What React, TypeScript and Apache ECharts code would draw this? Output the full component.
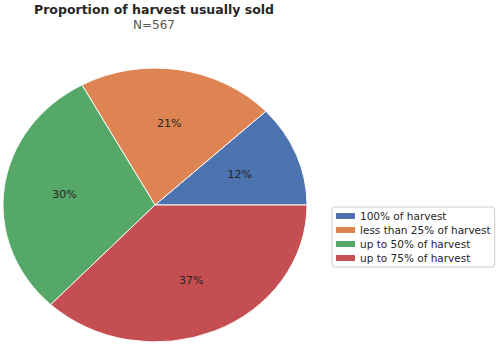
import React, { useEffect, useRef } from "react";
import * as echarts from "echarts";

const categories = [
  "100% of harvest",
  "less than 25% of harvest",
  "up to 50% of harvest",
  "up to 75% of harvest",
];
const counts = [68, 119, 170, 210];
const colors = ["#4c72b0", "#dd8452", "#55a868", "#c44e52"];
const titleText = "Proportion of harvest usually sold";
const subtitleText = "N=567";

const FONT = "DejaVu Sans";

export default function App() {
  const ref = useRef<HTMLDivElement>(null);
  useEffect(() => {
    if (!ref.current) return;
    const chart = echarts.init(ref.current, undefined, { renderer: "svg" });
    const total = counts.reduce((a, b) => a + b, 0);
    const starts: number[] = [];
    let acc = 0;
    counts.forEach((c) => {
      starts.push(acc);
      acc += c;
    });
    const cx = 155;
    const cy = 205;
    const rx = 152;
    const ry = 137;

    const series = categories.map((name, i) => ({
      type: "custom",
      name,
      coordinateSystem: "none",
      itemStyle: { color: colors[i] },
      data: [[counts[i], starts[i]]],
      renderItem: (params: any, api: any) => {
        const v = api.value(0);
        const s = api.value(1);
        const a0 = (s / total) * Math.PI * 2;
        const a1 = ((s + v) / total) * Math.PI * 2;
        const mid = (a0 + a1) / 2;
        const lx = cx + 0.6 * rx * Math.cos(mid);
        const ly = cy - 0.6 * ry * Math.sin(mid);
        return {
          type: "group",
          children: [
            {
              type: "group",
              x: cx,
              y: cy,
              scaleX: 1,
              scaleY: ry / rx,
              children: [
                {
                  type: "sector",
                  shape: {
                    cx: 0,
                    cy: 0,
                    r: rx,
                    r0: 0,
                    startAngle: -a1,
                    endAngle: -a0,
                    clockwise: true,
                  },
                  style: {
                    fill: colors[i],
                    stroke: "#ffffff",
                    lineWidth: 1,
                  },
                },
              ],
            },
            {
              type: "text",
              x: lx,
              y: ly,
              style: {
                text: Math.round((v / total) * 100) + "%",
                fontSize: 11,
                fontFamily: FONT,
                fill: "#262626",
                align: "center",
                verticalAlign: "middle",
              },
            },
          ],
        };
      },
    }));

    chart.setOption({
      animation: false,
      backgroundColor: "#ffffff",
      title: [
        {
          text: titleText,
          left: 154,
          textAlign: "center",
          top: 3,
          padding: 0,
          textStyle: {
            fontFamily: FONT,
            fontSize: 12.5,
            fontWeight: "bold",
            color: "#262626",
          },
        },
        {
          text: subtitleText,
          left: 154,
          textAlign: "center",
          top: 19,
          padding: 0,
          textStyle: {
            fontFamily: FONT,
            fontSize: 12,
            fontWeight: "normal",
            color: "#555555",
          },
        },
      ],
      legend: {
        orient: "vertical",
        left: 332,
        top: 207,
        data: categories,
        icon: "rect",
        itemWidth: 19,
        itemHeight: 6,
        itemGap: 2,
        padding: [3, 4, 3, 4],
        borderColor: "#cccccc",
        borderWidth: 1,
        borderRadius: 3,
        selectedMode: false,
        textStyle: {
          fontFamily: FONT,
          fontSize: 10.5,
          lineHeight: 12,
          color: "#262626",
          padding: [0, 0, 0, 0],
        },
      },
      series,
    });
    return () => chart.dispose();
  }, []);
  return (
    <div
      ref={ref}
      style={{ position: "fixed", left: 0, top: 0, width: 496, height: 345 }}
    />
  );
}
